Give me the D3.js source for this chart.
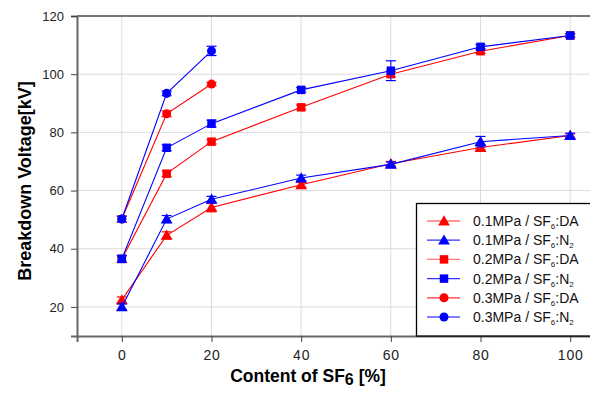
<!DOCTYPE html>
<html>
<head>
<meta charset="utf-8">
<script src="https://cdn.jsdelivr.net/npm/d3@7"></script>
<style>
  body { margin: 0; background: #fff; }
  svg { display: block; font-family: "Liberation Sans", Arial, sans-serif; }
</style>
</head>
<body>
<svg id="chart"></svg>
<script>
const width = 590;
const height = 394;

// SF6 content [%]
const content = [0, 10, 20, 40, 60, 80, 100];
const contentShort = [0, 10, 20];

const xTicks = [0, 20, 40, 60, 80, 100];
const yTicks = [20, 40, 60, 80, 100, 120];

// breakdown voltage [kV] and error bars
const da01 = [22.4, 44.6, 54.2, 62.0, 69.2, 74.8, 78.9];
const da01Err = [1.0, 1.2, 1.5, 0.8, 0.8, 0.8, 0.6];
const n201 = [20.0, 50.2, 57.0, 64.3, 69.0, 76.8, 78.9];
const n201Err = [1.0, 1.2, 1.0, 1.0, 0.8, 1.8, 0.8];
const da02 = [36.5, 65.8, 76.8, 88.6, 100.0, 107.9, 113.3];
const da02Err = [1.0, 1.0, 0.8, 0.8, 1.0, 0.8, 0.6];
const n202 = [36.5, 74.7, 83.0, 94.6, 101.2, 109.4, 113.3];
const n202Err = [1.2, 1.0, 1.2, 0.8, 3.4, 0.8, 0.6];
const da03 = [50.2, 86.4, 96.6];
const da03Err = [1.0, 1.0, 0.6];
const n203 = [50.2, 93.4, 108.0];
const n203Err = [1.0, 0.8, 1.6];

const series = [
  { name: "0.1MPa / SF", tail: ":DA", x: content, y: da01, err: da01Err, color: "#ff0000", legendLine: "#ff7777", shape: "tri" },
  { name: "0.1MPa / SF", tail: ":N", sub2: true, x: content, y: n201, err: n201Err, color: "#0000ff", legendLine: "#3333ff", shape: "tri" },
  { name: "0.2MPa / SF", tail: ":DA", x: content, y: da02, err: da02Err, color: "#ff0000", legendLine: "#ff7777", shape: "sq" },
  { name: "0.2MPa / SF", tail: ":N", sub2: true, x: content, y: n202, err: n202Err, color: "#0000ff", legendLine: "#3333ff", shape: "sq" },
  { name: "0.3MPa / SF", tail: ":DA", x: contentShort, y: da03, err: da03Err, color: "#ff0000", legendLine: "#ff3333", shape: "circ" },
  { name: "0.3MPa / SF", tail: ":N", sub2: true, x: contentShort, y: n203, err: n203Err, color: "#0000ff", legendLine: "#5555ff", shape: "circ" }
];

const margin = { left: 77, top: 16, bottom: 58 };
const svg = d3.select("#chart").attr("width", width).attr("height", height);

const x = d3.scaleLinear().domain([-10, 110]).range([margin.left, margin.left + 538]);
const y = d3.scaleLinear().domain([10, 120]).range([height - margin.bottom, margin.top]);

// grid
const grid = svg.append("g");
grid.selectAll(".gx").data(xTicks).enter().append("line")
  .attr("x1", d => x(d)).attr("x2", d => x(d))
  .attr("y1", y(120)).attr("y2", y(10))
  .attr("stroke", "#dcdcdc").attr("stroke-width", 1);
grid.selectAll(".gy").data(yTicks).enter().append("line")
  .attr("x1", x(-10)).attr("x2", width)
  .attr("y1", d => y(d)).attr("y2", d => y(d))
  .attr("stroke", "#dcdcdc").attr("stroke-width", 1);

// top frame
svg.append("line")
  .attr("x1", x(-10)).attr("x2", width)
  .attr("y1", y(120)).attr("y2", y(120))
  .attr("stroke", "#000").attr("stroke-width", 1.2);

// axes
const xAxis = svg.append("g")
  .attr("transform", `translate(0,${y(10)})`)
  .call(d3.axisBottom(x).tickValues(xTicks).tickSize(6).tickPadding(8));
const yAxis = svg.append("g")
  .attr("transform", `translate(${x(-10)},0)`)
  .call(d3.axisLeft(y).tickValues(yTicks).tickSize(6).tickPadding(7));

[xAxis, yAxis].forEach(a => {
  a.select(".domain").attr("stroke", "#666").attr("stroke-width", 2);
  a.selectAll(".tick line").attr("stroke", "#444");
  a.selectAll(".tick text").attr("fill", "#222").style("font-size", "13px")
    .style("font-family", "'Liberation Sans', Arial, sans-serif");
});
// x tick labels look a bit wider in the original
xAxis.selectAll(".tick text").style("font-size", "14px").style("letter-spacing", "0.8px");

const symbols = { tri: d3.symbolTriangle, sq: d3.symbolSquare, circ: d3.symbolCircle };
const sizes = { tri: 60, sq: 72, circ: 64 };

const line = d3.line();

series.forEach(s => {
  const pts = s.x.map((v, i) => [x(v), y(s.y[i]), s.err[i]]);
  const g = svg.append("g");
  g.append("path")
    .attr("d", line(pts.map(p => [p[0], p[1]])))
    .attr("fill", "none").attr("stroke", s.color).attr("stroke-width", 1.1);
  // error bars
  pts.forEach((p, i) => {
    const top = y(s.y[i] + s.err[i]);
    const bot = y(s.y[i] - s.err[i]);
    g.append("line").attr("x1", p[0]).attr("x2", p[0]).attr("y1", top).attr("y2", bot)
      .attr("stroke", s.color).attr("stroke-width", 1);
    [top, bot].forEach(yy => {
      g.append("line").attr("x1", p[0] - 5).attr("x2", p[0] + 5).attr("y1", yy).attr("y2", yy)
        .attr("stroke", s.color).attr("stroke-width", 1.2);
    });
  });
  g.selectAll("path.m").data(pts).enter().append("path")
    .attr("class", "m")
    .attr("transform", p => `translate(${p[0]},${p[1] + (s.shape === "tri" ? 1 : 0)})`)
    .attr("d", d3.symbol().type(symbols[s.shape]).size(sizes[s.shape]))
    .attr("fill", s.color);
});

// legend
const legend = svg.append("g");
legend.append("rect")
  .attr("x", 416.5).attr("y", 203.5)
  .attr("width", 200).attr("height", y(10) - 203.5)
  .attr("fill", "#fff").attr("stroke", "#000").attr("stroke-width", 1.3);

series.forEach((s, i) => {
  const ly = 221 + i * 19.2;
  legend.append("line").attr("x1", 427).attr("x2", 460).attr("y1", ly).attr("y2", ly)
    .attr("stroke", s.legendLine).attr("stroke-width", 1.3);
  legend.append("path")
    .attr("transform", `translate(444,${ly + (s.shape === "tri" ? 1 : 0)})`)
    .attr("d", d3.symbol().type(symbols[s.shape]).size(sizes[s.shape]))
    .attr("fill", s.color);
  const t = legend.append("text").attr("x", 473).attr("y", ly + 5)
    .style("font-size", "14px").attr("fill", "#111");
  t.append("tspan").text(s.name);
  t.append("tspan").text("6").style("font-size", "8px").attr("dy", 3);
  t.append("tspan").text(s.tail).attr("dy", -3);
  if (s.sub2) {
    t.append("tspan").text("2").style("font-size", "8px").attr("dy", 3);
  }
});

// axis titles
svg.append("text")
  .attr("transform", `translate(25,${y(65) + 5}) rotate(-90)`)
  .attr("text-anchor", "middle")
  .attr("dy", "0.35em")
  .style("font-size", "18px").style("font-weight", "bold")
  .text("Breakdown Voltage[kV]");

const xt = svg.append("text")
  .attr("x", 308).attr("y", 382)
  .attr("text-anchor", "middle")
  .style("font-size", "17.5px").style("font-weight", "bold");
xt.append("tspan").text("Content of SF");
xt.append("tspan").text("6").attr("dy", 3).style("font-size", "16px");
xt.append("tspan").text(" [%]").attr("dy", -3);
</script>
</body>
</html>
